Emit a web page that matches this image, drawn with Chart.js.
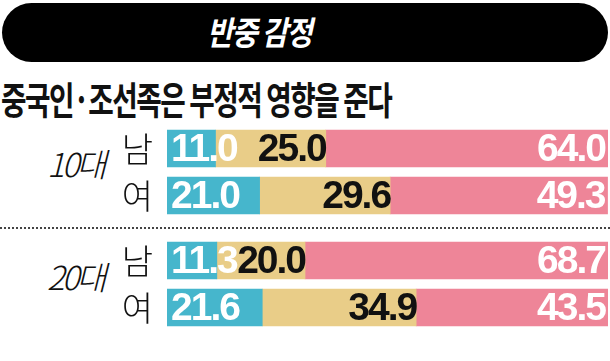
<!DOCTYPE html>
<html>
<head>
<meta charset="utf-8">
<script src="https://cdn.jsdelivr.net/npm/chart.js@4"></script>
<style>
  body { margin: 0; width: 610px; height: 361px; background: #fff; position: relative; overflow: hidden;
         font-family: "Noto Sans CJK KR", sans-serif; }
  .head { position: absolute; left: 2px; top: 3px; width: 606px; height: 59px; background: #000;
          border-radius: 30px; }
  .head span { position: absolute; left: 205px; top: 0; color: #fff; font-size: 33px; font-weight: 700;
          font-style: italic; line-height: 57px; letter-spacing: -1.5px; white-space: nowrap;
          transform: scaleX(0.86); transform-origin: left center; }
  .sub { position: absolute; left: 1px; top: 73px; font-size: 38px; font-weight: 700; color: #111;
         letter-spacing: -2px; line-height: 50px; white-space: nowrap; transform: scaleX(0.73);
         transform-origin: left center; }
  .grp { position: absolute; left: 47px; font-size: 33px; font-weight: 300; font-style: italic;
         color: #111; letter-spacing: -3px; line-height: 40px; }
  .sep { position: absolute; left: 0; top: 227px; width: 610px; border-top: 2px dotted #444; }
  canvas { position: absolute; left: 0; }
</style>
</head>
<body>
<div class="head"><span>반중 감정</span></div>
<div class="sub">중국인·조선족은 부정적 영향을 준다</div>
<div class="grp" style="top:143px">10대</div>
<div class="grp" style="top:256px">20대</div>
<div class="sep"></div>
<canvas id="c1" width="610" height="94" style="top:125px"></canvas>
<canvas id="c2" width="610" height="94" style="top:237px"></canvas>
<script>
// 성별 구분
const genders = ['남', '여'];

// 10대: 남, 여
const teen1 = [11.0, 21.0];
const teen2 = [25.0, 29.6];
const teen3 = [64.0, 49.3];

// 20대: 남, 여
const twen1 = [11.3, 21.6];
const twen2 = [20.0, 34.9];
const twen3 = [68.7, 43.5];

const colors = ['#46b6cc', '#e9cd88', '#ee8598'];
const textColors = ['#fff', '#111', '#fff'];

// bar value labels + category labels (y ticks hidden to avoid the axis padding)
const valueLabels = {
  id: 'valueLabels',
  afterDatasetsDraw(chart) {
    const ctx = chart.ctx;
    const ys = chart.scales.y;
    ctx.save();
    ctx.textBaseline = 'middle';
    ctx.font = '300 34px "Noto Sans CJK KR"';
    ctx.fillStyle = '#111';
    ctx.textAlign = 'right';
    chart.data.labels.forEach((lab, i) => {
      ctx.fillText(lab, chart.chartArea.left - 14, ys.getPixelForValue(i) + 1);
    });
    ctx.font = '700 39px "Liberation Sans", Arial, sans-serif';
    ctx.letterSpacing = '-2px';
    chart.data.datasets.forEach((ds, di) => {
      chart.getDatasetMeta(di).data.forEach((bar, i) => {
        const txt = ds.data[i].toFixed(1);
        ctx.fillStyle = textColors[di];
        if (di === 0) {
          ctx.textAlign = 'left';
          ctx.fillText(txt, bar.base + 4, bar.y + 2);
        } else {
          ctx.textAlign = 'right';
          ctx.fillText(txt, bar.x - (di === 2 ? 3 : 0), bar.y + 2);
        }
      });
    });
    ctx.restore();
  }
};

function makeChart(id, a, b, c) {
  return new Chart(document.getElementById(id), {
    type: 'bar',
    data: {
      labels: genders,
      datasets: [
        { data: a, backgroundColor: colors[0] },
        { data: b, backgroundColor: colors[1] },
        { data: c, backgroundColor: colors[2] }
      ]
    },
    options: {
      indexAxis: 'y',
      responsive: false,
      animation: false,
      layout: { padding: { left: 167, right: 2, top: 0, bottom: 0 } },
      datasets: { bar: { barThickness: 37 } },
      plugins: { legend: { display: false }, tooltip: { enabled: false } },
      scales: {
        x: { stacked: true, min: 0, max: 100, display: false },
        y: { stacked: true, display: false }
      }
    },
    plugins: [valueLabels]
  });
}

makeChart('c1', teen1, teen2, teen3);
makeChart('c2', twen1, twen2, twen3);
</script>
</body>
</html>
